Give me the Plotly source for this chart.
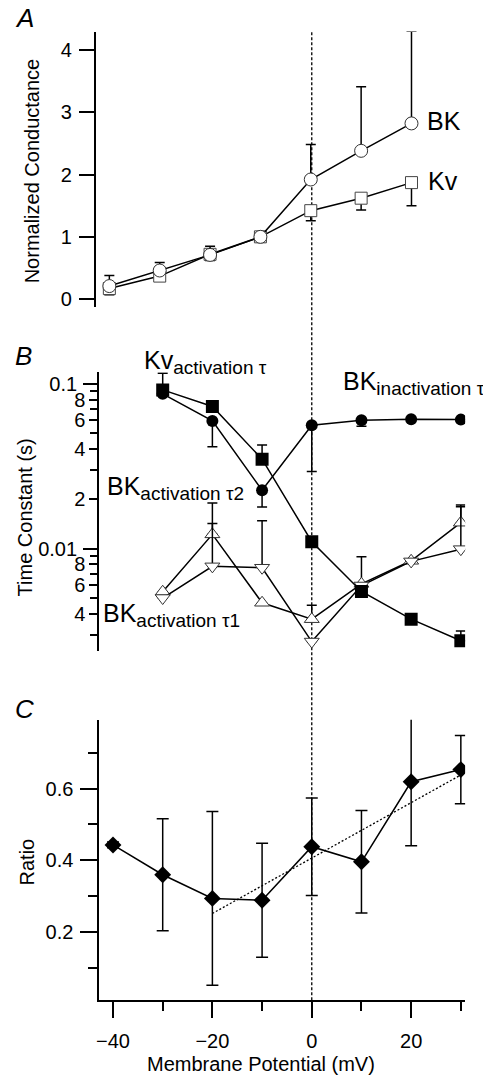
import plotly.graph_objects as go

W, H = 483, 1081
FONT = "Liberation Sans, Arial, Helvetica, sans-serif"

# ---------------- data ----------------
# Panel A: normalized conductance
mv_A = [-40, -30, -20, -10, 0, 10, 20]
bk_A = [0.21, 0.46, 0.71, 1.0, 1.92, 2.38, 2.82]
bk_A_err = [0.17, 0.13, 0.14, 0.0, 0.56, 1.03, 1.48]
kv_A = [0.17, 0.37, 0.72, 1.0, 1.42, 1.62, 1.87]
kv_A_err = [0.10, 0.08, 0.10, 0.0, 0.16, 0.19, 0.37]

# Panel B: time constants (s)
mv_B = [-30, -20, -10, 0, 10, 20, 30]
kv_tau = [0.0920, 0.0730, 0.0349, 0.0110, 0.00548, 0.00372, 0.00275]
kv_tau_err = [0.024, 0.0, 0.0076, 0.0, 0.0, 0.0, 0.0004]
bk_tau = [0.0871, 0.0596, 0.0226, 0.0561, 0.0601, 0.0610, 0.0607]
bk_tau_err = [0.0, 0.0181, 0.0047, 0.0267, 0.0048, 0.0, 0.0015]
tau1_up = [0.00546, 0.01219, 0.00468, 0.00372, 0.00610, 0.00842, 0.01435]
tau1_up_err = [0.0, 0.0067, 0.0, 0.0008, 0.0028, 0.0, 0.0040]
tau1_dn = [0.00500, 0.00779, 0.00764, 0.00272, 0.00596, 0.00835, 0.00991]
tau1_dn_err = [0.0, 0.0064, 0.0071, 0.0, 0.0, 0.0, 0.0080]

# Panel C: ratio
mv_C = [-40, -30, -20, -10, 0, 10, 20, 30]
ratio = [0.443, 0.360, 0.294, 0.289, 0.438, 0.396, 0.619, 0.653]
ratio_err = [0.008, 0.156, 0.242, 0.159, 0.136, 0.143, 0.178, 0.095]
fit_x = [-20, 30]
fit_y = [0.252, 0.638]

# tick labels
A_ticks = [0, 1, 2, 3, 4]
B_major = [0.1, 0.01]
B_major_text = ["0.1", "0.01"]
B_labeled = [0.08, 0.06, 0.04, 0.02, 0.008, 0.006, 0.004]
B_labeled_text = ["8", "6", "4", "2", "8", "6", "4"]
B_minor = [0.09, 0.07, 0.05, 0.03, 0.009, 0.007, 0.005, 0.003]
C_yticks = [0.2, 0.4, 0.6]
C_yminor = [0.1, 0.3, 0.5, 0.7]
C_xticks = [-40, -20, 0, 20]
C_xminor = [-30, -10, 10, 30]


def px(x):
    return x / W


def py(y):
    return 1 - y / H


fig = go.Figure()

LW = 1.5
blk = "black"


def err(arr, minus=None, w=5):
    d = dict(type="data", array=arr, color=blk, thickness=1.5, width=w)
    if minus is not None:
        d["symmetric"] = False
        d["arrayminus"] = minus
    return d


zeros7 = [0.0] * 7

# Panel A
fig.add_trace(go.Scatter(x=mv_A, y=kv_A, mode="lines+markers", xaxis="x", yaxis="y",
                         line=dict(color=blk, width=LW),
                         marker=dict(symbol="square", size=12, color="white",
                                     line=dict(color="#444", width=1)),
                         error_y=err(zeros7, kv_A_err)))
fig.add_trace(go.Scatter(x=mv_A, y=bk_A, mode="lines+markers", xaxis="x", yaxis="y",
                         line=dict(color=blk, width=LW),
                         marker=dict(symbol="circle", size=13, color="white",
                                     line=dict(color="#333", width=1)),
                         error_y=err(bk_A_err, zeros7)))

# Panel B
fig.add_trace(go.Scatter(x=mv_B, y=tau1_up, mode="lines+markers", xaxis="x2", yaxis="y2",
                         line=dict(color=blk, width=LW),
                         marker=dict(symbol="triangle-up", size=13, color="white",
                                     line=dict(color="#333", width=1)),
                         error_y=err(tau1_up_err, zeros7)))
fig.add_trace(go.Scatter(x=mv_B, y=tau1_dn, mode="lines+markers", xaxis="x2", yaxis="y2",
                         line=dict(color=blk, width=LW),
                         marker=dict(symbol="triangle-down", size=13, color="white",
                                     line=dict(color="#333", width=1)),
                         error_y=err(tau1_dn_err, zeros7)))
fig.add_trace(go.Scatter(x=mv_B, y=kv_tau, mode="lines+markers", xaxis="x2", yaxis="y2",
                         line=dict(color=blk, width=LW),
                         marker=dict(symbol="square", size=13, color=blk),
                         error_y=err(kv_tau_err, zeros7)))
fig.add_trace(go.Scatter(x=mv_B, y=bk_tau, mode="lines+markers", xaxis="x2", yaxis="y2",
                         line=dict(color=blk, width=LW),
                         marker=dict(symbol="circle", size=12, color=blk),
                         error_y=err(zeros7, bk_tau_err)))
# invisible trace so the overlay axis carrying the decade ticks is drawn
fig.add_trace(go.Scatter(x=[mv_B[0]], y=[kv_tau[0]], mode="markers", xaxis="x2", yaxis="y4",
                         marker=dict(opacity=0, size=1), hoverinfo="skip"))

# Panel C
fig.add_trace(go.Scatter(x=fit_x, y=fit_y, mode="lines", xaxis="x3", yaxis="y3",
                         line=dict(color=blk, width=1.3, dash="2px,2px")))
fig.add_trace(go.Scatter(x=mv_C, y=ratio, mode="lines+markers", xaxis="x3", yaxis="y3",
                         line=dict(color=blk, width=LW),
                         marker=dict(symbol="diamond", size=13, color=blk),
                         error_y=err(ratio_err, w=6)))

# vertical dashed line at 0 mV spanning all panels
fig.add_shape(type="line", xref="x3", yref="paper", x0=0, x1=0,
              y0=py(1003), y1=py(31), layer="below",
              line=dict(color=blk, width=1.3, dash="3px,2px"))

tickfont = dict(family=FONT, size=20, color=blk)
xr = [(96.7 - 310.7) / 5, (465 - 310.7) / 5]
xrA = [(93.3 - 309.7) / 5.067, (465 - 309.7) / 5.067]
hidden_x = dict(showline=False, showticklabels=False, ticks="", showgrid=False, zeroline=False)

fig.update_layout(
    width=W, height=H,
    margin=dict(l=0, r=0, t=0, b=0),
    paper_bgcolor="white", plot_bgcolor="rgba(0,0,0,0)",
    showlegend=False,
    font=dict(family=FONT, size=20, color=blk),
    xaxis=dict(domain=[px(93.3), px(465)], range=xrA, anchor="y", **hidden_x),
    yaxis=dict(domain=[py(308.3), py(31.7)], range=[(300 - 308.3) / 62.5, (300 - 31.7) / 62.5],
               anchor="x", showline=True, linecolor=blk, linewidth=1.5,
               ticks="outside", ticklen=15, tickwidth=1.5, tickcolor=blk, ticklabelstandoff=3,
               tickvals=A_ticks, tickfont=tickfont, showgrid=False, zeroline=False),
    xaxis2=dict(domain=[px(96.7), px(465)], range=xr, anchor="y2", **hidden_x),
    yaxis2=dict(domain=[py(653), py(373.3)], type="log", range=[-2.624, -0.929],
                anchor="x2", showline=True, linecolor=blk, linewidth=1.5,
                ticks="outside", ticklen=8, tickwidth=1.5, tickcolor=blk,
                tickmode="array", tickvals=B_labeled, ticktext=B_labeled_text,
                tickfont=tickfont, showgrid=False, zeroline=False,
                minor=dict(tickmode="array", tickvals=B_minor, ticks="outside",
                           ticklen=7, tickwidth=1.5, tickcolor=blk, showgrid=False)),
    yaxis4=dict(overlaying="y2", type="log", range=[-2.624, -0.929], anchor="x2", side="left",
                showline=False, ticks="outside", ticklen=15, tickwidth=1.5, tickcolor=blk,
                tickmode="array", tickvals=B_major, ticktext=B_major_text, ticklabelstandoff=2,
                tickfont=tickfont, showgrid=False, zeroline=False),
    xaxis3=dict(domain=[px(96.7), px(465)], range=xr, anchor="y3",
                showline=True, linecolor=blk, linewidth=1.5,
                ticks="outside", ticklen=17, tickwidth=1.5, tickcolor=blk, ticklabelstandoff=6,
                tickmode="array", tickvals=C_xticks, tickfont=tickfont,
                showgrid=False, zeroline=False,
                minor=dict(tickmode="array", tickvals=C_xminor, ticks="outside",
                           ticklen=10, tickwidth=1.5, tickcolor=blk, showgrid=False)),
    yaxis3=dict(domain=[py(1002.3), py(721.7)], range=[0.0122, 0.792], anchor="x3",
                showline=True, linecolor=blk, linewidth=1.5,
                ticks="outside", ticklen=17, tickwidth=1.5, tickcolor=blk, ticklabelstandoff=3,
                tickmode="array", tickvals=C_yticks, ticktext=["0.2", "0.4", "0.6"],
                tickfont=tickfont, showgrid=False, zeroline=False,
                minor=dict(tickmode="array", tickvals=C_yminor, ticks="outside",
                           ticklen=9, tickwidth=1.5, tickcolor=blk, showgrid=False)),
)


def ann(text, x, y, size=20, xanchor="left", yanchor="middle", angle=0):
    fig.add_annotation(text=text, xref="paper", yref="paper", x=px(x), y=py(y),
                       xanchor=xanchor, yanchor=yanchor, showarrow=False, textangle=angle,
                       font=dict(family=FONT, size=size, color=blk))


def sublabel(main, sub):
    return main + '<sub><span style="font-size:19px">' + sub + "</span></sub>"


# panel letters
ann("<i>A</i>", 10, 18, size=26)
ann("<i>B</i>", 10, 357, size=26)
ann("<i>C</i>", 10, 711, size=26)

# axis titles
ann("Normalized Conductance", 29, 171, xanchor="center", angle=-90)
ann("Time Constant (s)", 22, 519, xanchor="center", angle=-90)
ann("Ratio", 24, 864, xanchor="center", angle=-90)
ann("Membrane Potential (mV)", 260, 1067, xanchor="center")

# series labels
ann("BK", 425, 121, size=25)
ann("Kv", 426, 182, size=25)
ann(sublabel("Kv", "activation τ"), 140, 363, size=25)
ann(sublabel("BK", "inactivation τ"), 340, 384, size=25)
ann(sublabel("BK", "activation τ2"), 103, 489, size=25)
ann(sublabel("BK", "activation τ1"), 99, 617, size=25)

fig.write_html("out.html")
